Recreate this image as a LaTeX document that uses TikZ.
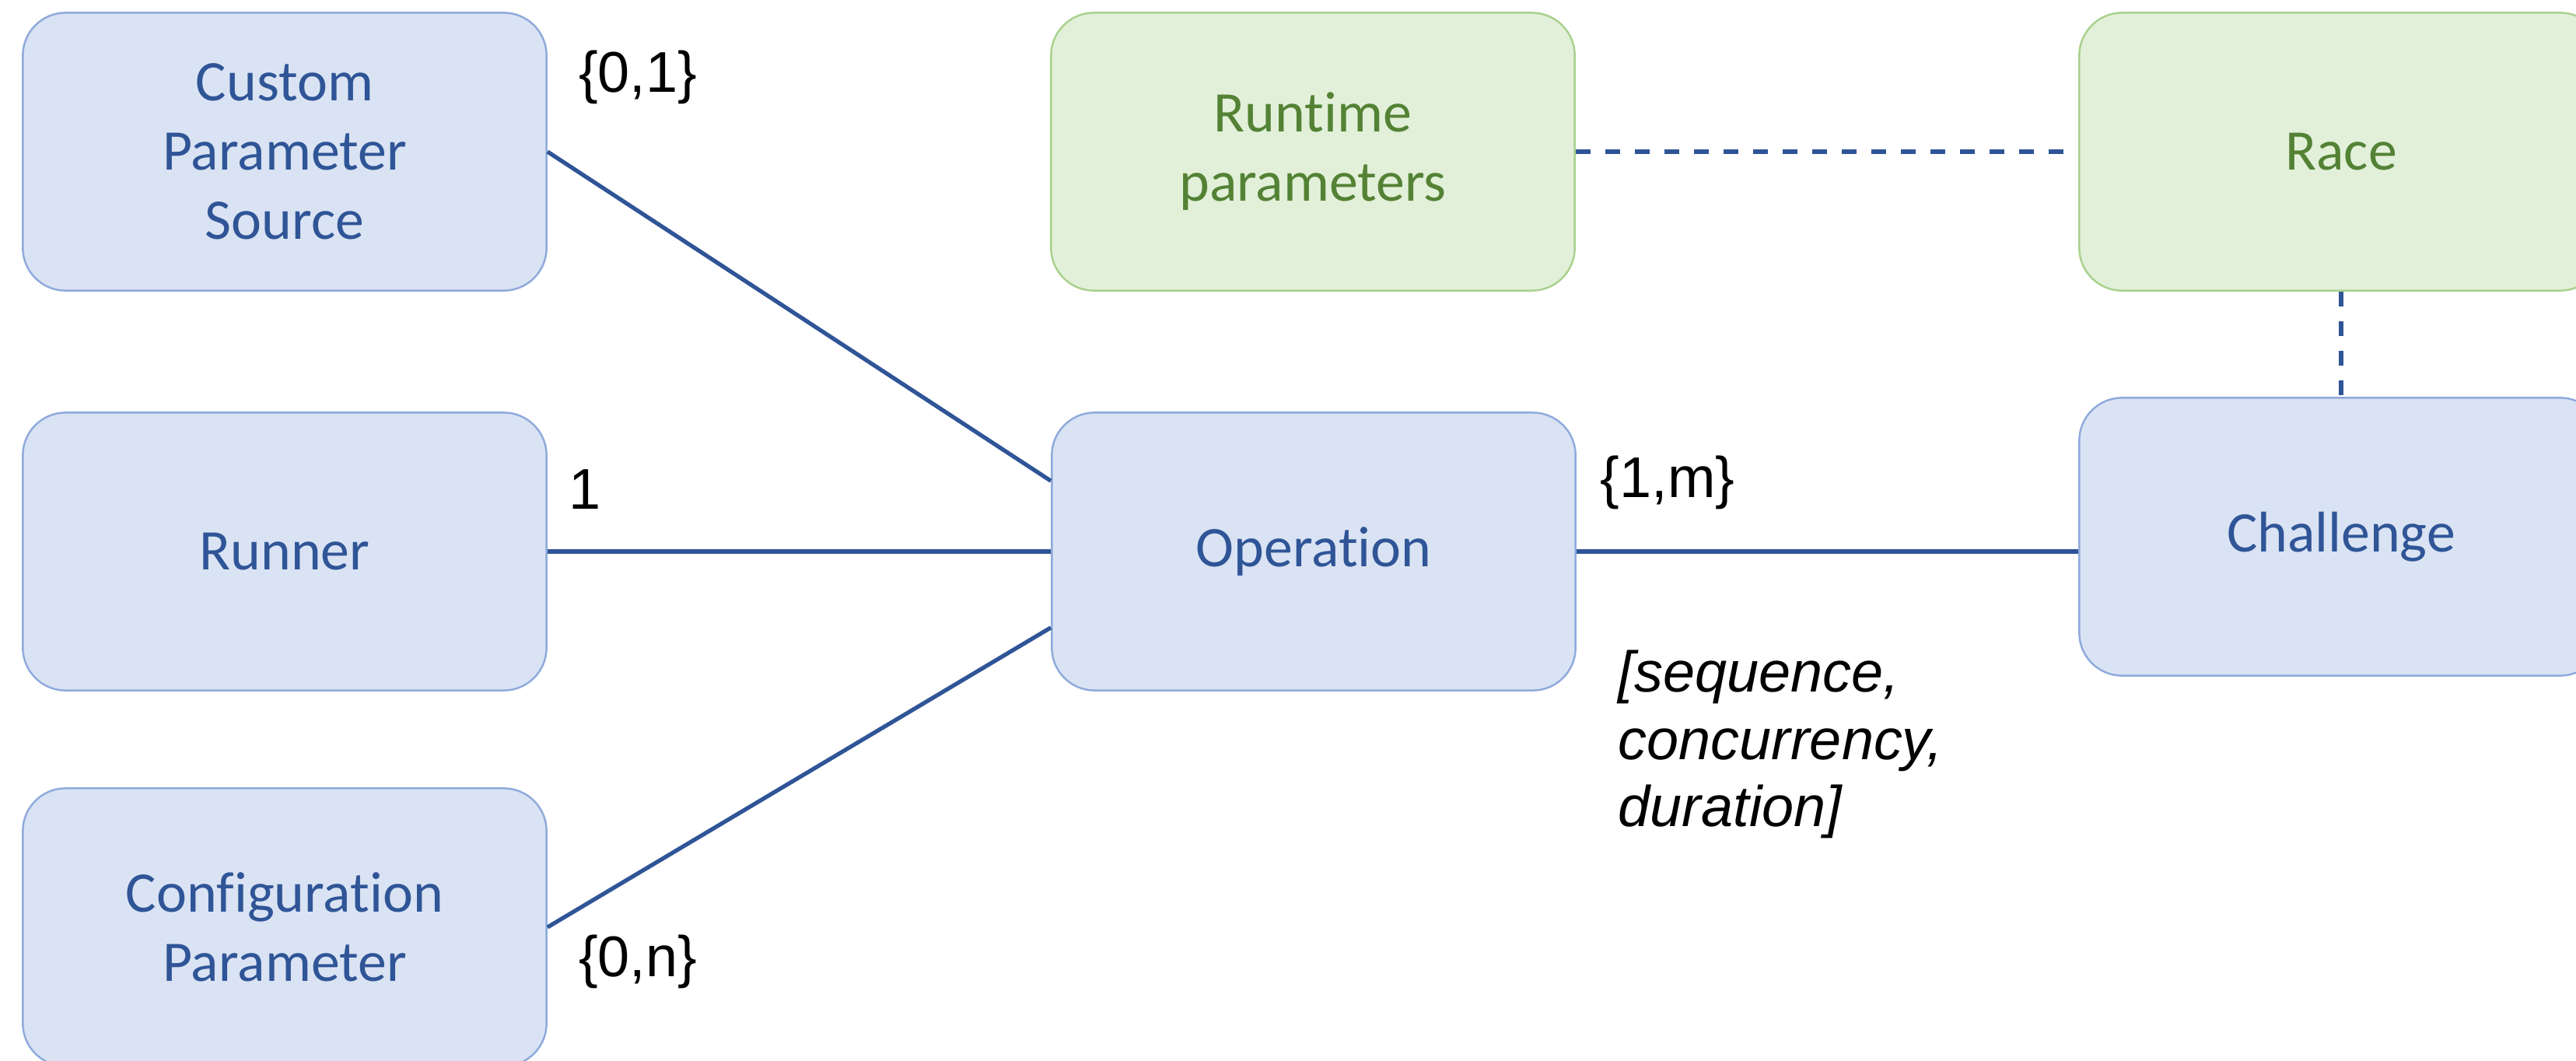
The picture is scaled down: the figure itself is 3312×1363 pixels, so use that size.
\documentclass[tikz,border=0pt]{standalone}
\usepackage{fontspec}
\setmainfont{Carlito}[Ligatures=NoCommon]
\newfontfamily\labelfont{Liberation Sans}

\definecolor{blueFill}{HTML}{DAE3F3}
\definecolor{blueEdge}{HTML}{8FAADC}
\definecolor{blueText}{HTML}{2F5597}
\definecolor{greenFill}{HTML}{E2F0D9}
\definecolor{greenEdge}{HTML}{A9D18E}
\definecolor{greenText}{HTML}{548235}
\definecolor{linkBlue}{HTML}{2F5597}

\tikzset{
  entity/.style={rectangle, rounded corners=0.55cm, minimum width=6.73cm,
    minimum height=3.57cm, line width=0.7pt, align=center, inner sep=0pt,
    font=\fontsize{21}{25.3}\selectfont},
  bluebox/.style={entity, fill=blueFill, draw=blueEdge, text=blueText},
  greenbox/.style={entity, fill=greenFill, draw=greenEdge, text=greenText},
  link/.style={draw=linkBlue, line width=1.5pt},
  dashlink/.style={link, dash pattern=on 0.19cm off 0.19cm},
  card/.style={inner sep=0pt, text=black,
    font=\labelfont\fontsize{21}{24.7}\selectfont},
}

\begin{document}
\begin{tikzpicture}[x=0.01cm, y=-0.01cm]
  \useasboundingbox (0,0) rectangle (3312,1363);

  % entities
  \node[bluebox]  (cps)     at (366,195)  {Custom\\Parameter\\Source};
  \node[bluebox]  (runner)  at (366,709)  {Runner};
  \node[bluebox]  (config)  at (366,1192) {Configuration\\Parameter};
  \node[greenbox] (runtime) at (1688,195) {Runtime\\parameters};
  \node[bluebox]  (op)      at (1689,709) {Operation};
  \node[greenbox] (race)    at (3010,195) {Race};
  \node[bluebox]  (chal)    at (3010,690) {Challenge};

  % associations
  \draw[link] (cps.east) -- ([yshift=-0.89cm]op.north west);
  \draw[link] (runner.east) -- (op.west);
  \draw[link] (config.east) -- ([yshift=0.82cm]op.south west);
  \draw[link] (op.east) -- (op.east -| chal.west);
  \draw[dashlink] (runtime.east) -- (race.west);
  \draw[dashlink] (race.south) -- (chal.north);

  % multiplicities
  \node[card] (m01) at (820,99)   {\{0,1\}};
  \node[card] (m1)  at (752,629)  {1};
  \node[card] (m0n) at (820,1236) {\{0,n\}};
  \node[card] (m1m) at (2144,620) {\{1,m\}};
  \node[card, anchor=west, align=left,
        font=\labelfont\itshape\fontsize{21}{24.7}\selectfont]
        (attrs) at (2080,957) {[sequence,\\concurrency,\\duration]};
\end{tikzpicture}
\end{document}
